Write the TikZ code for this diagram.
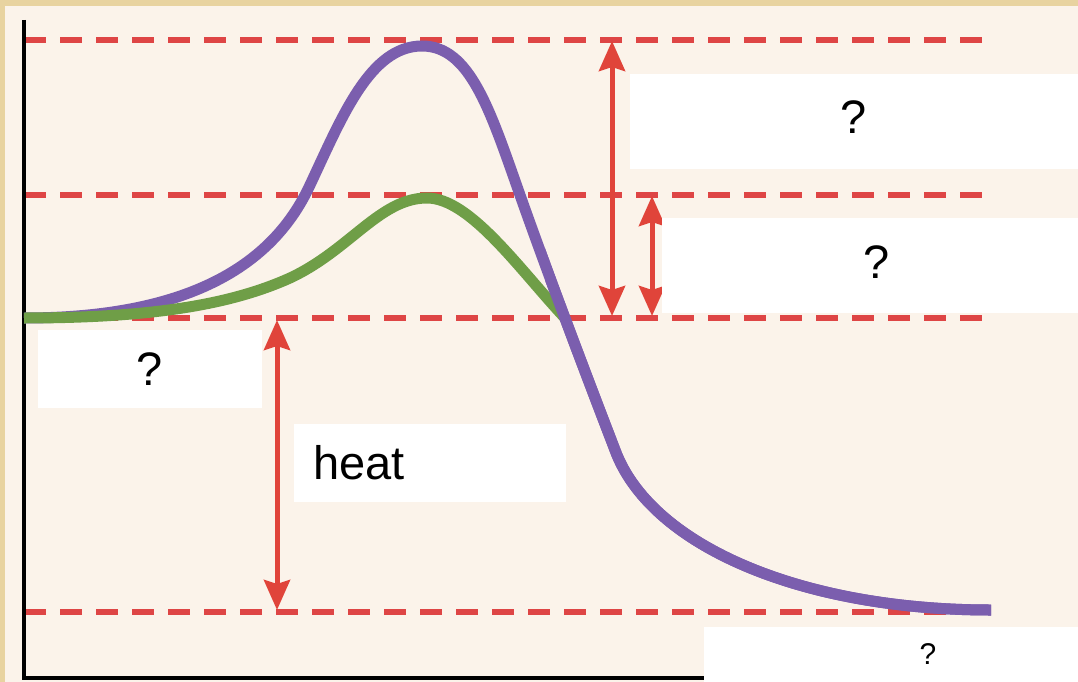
\documentclass[tikz,border=0pt]{standalone}
\usepackage{fontspec}
\setmainfont{Liberation Sans}
\usepackage{tikz}
\usetikzlibrary{arrows.meta,positioning}

\definecolor{parch}{HTML}{E8D3A0}
\definecolor{cream}{HTML}{FBF3EA}
\definecolor{lvlred}{HTML}{DE4545}
\definecolor{arrred}{HTML}{E0443A}
\definecolor{purp}{HTML}{7B5EAE}
\definecolor{grn}{HTML}{6F9E47}

\newcommand{\bigq}{\fontsize{47}{50}\selectfont}
\newcommand{\smallq}{\fontsize{30}{33}\selectfont}
\newcommand{\purplepath}{(24,318) .. controls (205,318) and (278,254) .. (310,185) .. controls (342,117) and (370,46) .. (422,46) .. controls (470,46) and (490,110) .. (520,195) .. controls (550,280) and (590,385) .. (615,450) .. controls (650,545) and (800,610) .. (991,610)}

\begin{document}
\begin{tikzpicture}[x=1pt, y=-1pt,
    level/.style={lvlred, line width=6pt, dash pattern=on 22pt off 14pt},
    gap/.style={arrred, line width=5pt, {Stealth[length=30pt,width=26pt,inset=4pt]}-{Stealth[length=30pt,width=26pt,inset=4pt]}},
    qbox/.style={fill=white, inner sep=0pt, font=\bigq}]
\fill[parch] (0,0) rectangle (1078,682);
\fill[cream] (5,6) rectangle (1078,682);
\useasboundingbox (0,0) rectangle (1078,682);

% energy levels
\foreach \y in {40,195,318,612}
  \draw[level] (24,\y) -- (995,\y);

% axes
\draw[line width=4pt] (24,20) -- (24,678) -- (1078,678);

% reaction paths
\draw[purp, line width=11pt] \purplepath;
\draw[grn, line width=11pt] (24,318) .. controls (150,318) and (230,305) .. (290,278) .. controls (350,250) and (380,198) .. (427,198) .. controls (470,198) and (520,270) .. (565,318);
\begin{scope}
  \clip (545,0) rectangle (1078,682);
  \draw[purp, line width=11pt] \purplepath;
\end{scope}

% arrows
\coordinate (eatop) at (612,41);
\coordinate (eabot) at (612,316);
\coordinate (catop) at (652,196);
\coordinate (cabot) at (652,316);
\coordinate (htop) at (277,320);
\coordinate (hbot) at (277,610);
\draw[gap] (eatop) -- (eabot);
\draw[gap] (catop) -- (cabot);
\draw[gap] (htop) -- (hbot);

% labels
\node[qbox, minimum width=448pt, minimum height=95pt] (uncat) at (854,121.5) {\raisebox{8pt}{?}};
\node[qbox, minimum width=416pt, minimum height=95pt] (cat) at (870,265.5) {\hspace*{14pt}\raisebox{7pt}{?}};
\node[qbox, minimum width=224pt, minimum height=78pt] (react) at (150,369) {?};
\node[qbox, minimum width=272pt, minimum height=78pt, text width=253pt, align=left, inner xsep=0pt] (heat) at (430,463) {\hspace*{10pt}heat};
\node[qbox, font=\smallq, minimum width=374pt, minimum height=55pt] (prod) at (891,654.5) {\hspace*{74pt}?};
\end{tikzpicture}
\end{document}
